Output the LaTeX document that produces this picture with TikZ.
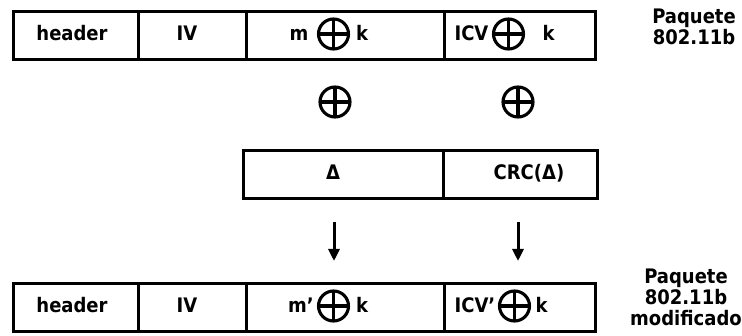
\documentclass[tikz,border=0pt]{standalone}
\usepackage{fontspec}
\setmainfont{DejaVu Sans Condensed}
\usetikzlibrary{arrows.meta}

\tikzset{
  cell/.style={draw=black, line width=3pt, rectangle, inner sep=0pt,
               anchor=north west, minimum height=48pt},
  txt/.style={font=\fontsize{20}{21}\selectfont\bfseries, inner sep=0pt},
  lbl/.style={txt, anchor=base},
  side/.style={txt, anchor=center, align=center},
  xorsym/.style={circle, draw=black, line width=3.1pt, minimum size=30pt, inner sep=0pt,
    path picture={
      \draw[line width=3.1pt]
        (path picture bounding box.north) -- (path picture bounding box.south)
        (path picture bounding box.west) -- (path picture bounding box.east);
    }},
  arr/.style={line width=3pt, -{Triangle[width=11pt,length=12pt]}}
}

\begin{document}
\begin{tikzpicture}[x=1pt, y=-1pt]
  \useasboundingbox (0,0) rectangle (742,336);

  % original frame
  \node[cell, minimum width=125pt] (h1)   at (12,10)  {};
  \node[cell, minimum width=108pt] (iv1)  at (137,10) {};
  \node[cell, minimum width=198pt] (m1)   at (245,10) {};
  \node[cell, minimum width=151pt] (icv1) at (443,10) {};

  \node[lbl] (h1t)  at (72,41)  {header};
  \node[lbl] (iv1t) at (187,41) {IV};
  \node[lbl] (m1a)  at (299,41) {m};
  \node[xorsym] (m1x) at (333.5,34) {};
  \node[lbl] (m1b)  at (362,41) {k};
  \node[lbl] (c1a)  at (471.5,41) {ICV};
  \node[xorsym] (c1x) at (508.5,34) {};
  \node[lbl] (c1b)  at (548.5,41) {k};

  \node[side] (top) at (694,27) {Paquete\\802.11b};

  % xor with the modification
  \node[xorsym] (x1) at (335,102) {};
  \node[xorsym] (x2) at (518,102) {};

  % modification
  \node[cell, minimum width=200pt] (dcell)   at (242,149) {};
  \node[cell, minimum width=154pt] (crccell) at (442,149) {};
  \node[lbl] (dt)   at (333,180) {Δ};
  \node[lbl] (crct) at (529,180) {CRC(Δ)};

  % arrows
  \coordinate (a1s) at (334,222);
  \coordinate (a1e) at (334,261);
  \coordinate (a2s) at (518,222);
  \coordinate (a2e) at (518,261);
  \draw[arr] (a1s) -- (a1e);
  \draw[arr] (a2s) -- (a2e);

  % modified frame
  \node[cell, minimum width=125pt] (h2)   at (12,282)  {};
  \node[cell, minimum width=108pt] (iv2)  at (137,282) {};
  \node[cell, minimum width=198pt] (m2)   at (245,282) {};
  \node[cell, minimum width=151pt] (icv2) at (443,282) {};

  \node[lbl] (h2t)  at (72,313)  {header};
  \node[lbl] (iv2t) at (187,313) {IV};
  \node[lbl] (m2a)  at (301,313) {m’};
  \node[xorsym] (m2x) at (333.5,306) {};
  \node[lbl] (m2b)  at (362,313) {k};
  \node[lbl] (c2a)  at (475,313) {ICV’};
  \node[xorsym] (c2x) at (514.5,306) {};
  \node[lbl] (c2b)  at (541.5,313) {k};

  \node[side] (bot) at (686,297) {Paquete\\802.11b\\modificado};
\end{tikzpicture}
\end{document}
